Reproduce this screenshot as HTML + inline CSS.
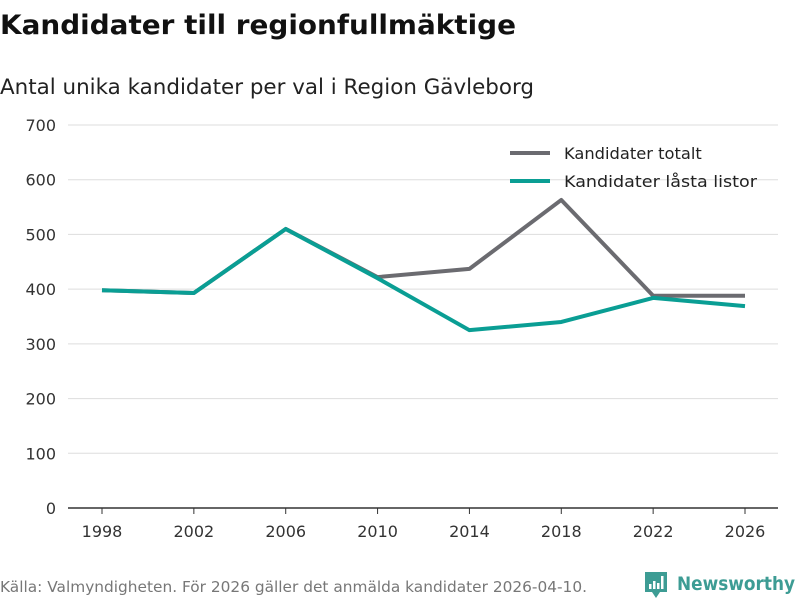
<!DOCTYPE html>
<html><head><meta charset="utf-8"><style>
body{margin:0;background:#fff;font-family:"DejaVu Sans","Liberation Sans",sans-serif;}
svg text{font-family:"DejaVu Sans","Liberation Sans",sans-serif;}
</style></head><body>
<svg id="c" width="800" height="600" viewBox="0 0 800 600" xmlns="http://www.w3.org/2000/svg">
<text x="0" y="34" font-size="27" font-weight="bold" fill="#111" textLength="516" lengthAdjust="spacingAndGlyphs">Kandidater till regionfullmäktige</text>
<text x="0" y="94" font-size="21" fill="#222" textLength="534" lengthAdjust="spacingAndGlyphs">Antal unika kandidater per val i Region Gävleborg</text>
<g id="grid"></g>
<g id="series"></g>
<g>
<line x1="510" y1="153" x2="550" y2="153" stroke="#6b6b70" stroke-width="4"/>
<text x="564" y="159" font-size="16.3" fill="#222">Kandidater totalt</text>
<line x1="510" y1="181" x2="550" y2="181" stroke="#0a9e94" stroke-width="4"/>
<text x="564" y="187" font-size="16.3" fill="#222" textLength="193" lengthAdjust="spacingAndGlyphs">Kandidater låsta listor</text>
</g>
<text x="0" y="592" font-size="15" fill="#777" textLength="587" lengthAdjust="spacingAndGlyphs">Källa: Valmyndigheten. För 2026 gäller det anmälda kandidater 2026-04-10.</text>
<g>
<path d="M645 572 h22 v20 h-7 l-4 6 l-4 -6 h-7 z" fill="#3d9c94"/>
<rect x="649" y="584" width="2.5" height="5" fill="#fff"/><rect x="653" y="581" width="2.5" height="8" fill="#fff"/><rect x="657" y="583" width="2.5" height="6" fill="#fff"/><rect x="661" y="576" width="2.5" height="13" fill="#fff"/>
<text x="677" y="590" font-size="19" font-weight="bold" fill="#3d9c94" textLength="118" lengthAdjust="spacingAndGlyphs">Newsworthy</text>
</g>
</svg>
<script>
const years=[1998,2002,2006,2010,2014,2018,2022,2026];
const totalt=[398,393,510,422,437,563,388,388];
const lasta=[398,393,510,420,325,340,384,369];
const yTicks=[0,100,200,300,400,500,600,700];
const NS="http://www.w3.org/2000/svg";
const x=v=>102+(v-1998)*(745-102)/28;
const y=v=>508-v*(508-125)/700;
const grid=document.getElementById('grid');
function mk(t,a,p){const e=document.createElementNS(NS,t);for(const k in a)e.setAttribute(k,a[k]);p.appendChild(e);return e;}
yTicks.forEach(t=>{
 const l=mk('line',{x1:68,x2:778,y1:y(t),y2:y(t),stroke:t===0?'#333':'#ddd','stroke-width':t===0?1.5:1},grid);
 
 
 const tx=mk('text',{x:56,y:y(t)+6,'text-anchor':'end','font-size':16,fill:'#333'},grid);
 tx.textContent=t;
 
 
});
years.forEach(yr=>{
 const tk=mk('line',{x1:x(yr),x2:x(yr),y1:508,y2:514,stroke:'#333'},grid);
 
 
 const tx=mk('text',{x:x(yr),y:537,'text-anchor':'middle','font-size':16,fill:'#333'},grid);
 tx.textContent=yr;
 
 
});
const s=document.getElementById('series');
const p1=mk('polyline',{points:years.map((yr,i)=>x(yr)+','+y(totalt[i])).join(' '),fill:'none',stroke:'#6b6b70','stroke-width':4,'stroke-linejoin':'round'},s);


const p2=mk('polyline',{points:years.map((yr,i)=>x(yr)+','+y(lasta[i])).join(' '),fill:'none',stroke:'#0a9e94','stroke-width':4,'stroke-linejoin':'round'},s);


</script>
</body></html>
